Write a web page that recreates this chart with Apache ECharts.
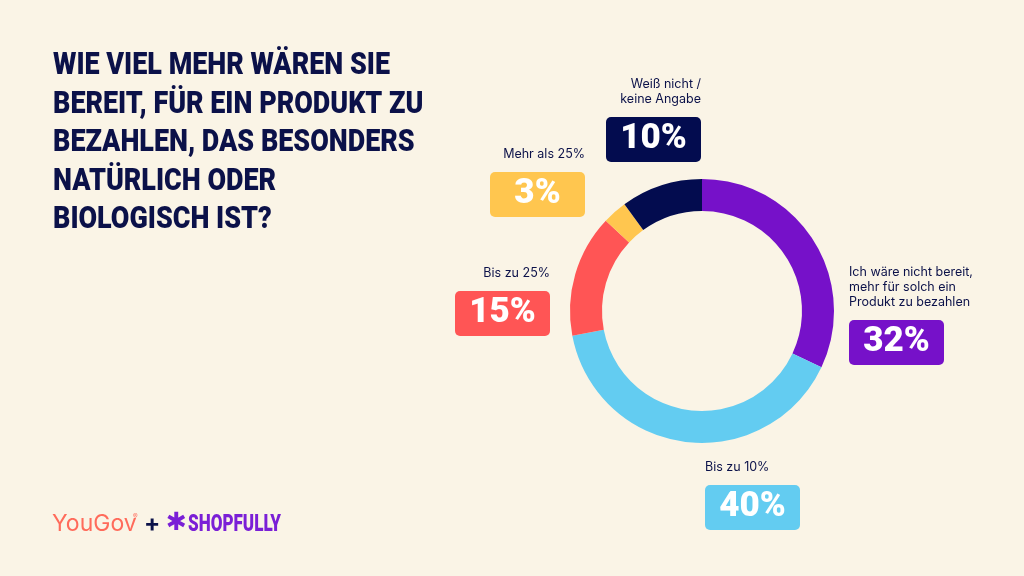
<!DOCTYPE html>
<html>
<head>
<meta charset="utf-8">
<script src="https://cdn.jsdelivr.net/npm/echarts@6/dist/echarts.min.js"></script>
<style>
  html, body { margin: 0; padding: 0; background: #faf4e6; }
  #chart { width: 1024px; height: 576px; }
</style>
</head>
<body>
<div id="chart"></div>
<script>
'use strict';

// Daten
var categories = ['Ich wäre nicht bereit,\nmehr für solch ein\nProdukt zu bezahlen', 'Bis zu 10%', 'Bis zu 25%', 'Mehr als 25%', 'Weiß nicht /\nkeine Angabe'];
var values = [32, 40, 15, 3, 10];
var colors = ['#7611c9', '#63ccf1', '#ff5555', '#ffc64f', '#030c4f'];

// Label-Positionen (Anker oben, links oder rechts)
var labelPos = [
    { x: 849, y: 265, align: 'left' },
    { x: 705, y: 460, align: 'left' },
    { x: 550, y: 266, align: 'right' },
    { x: 585, y: 147, align: 'right' },
    { x: 701, y: 77, align: 'right' }
];

var navy = '#0b1149';
var titleLines = ['WIE VIEL MEHR WÄREN SIE', 'BEREIT, FÜR EIN PRODUKT ZU', 'BEZAHLEN, DAS BESONDERS', 'NATÜRLICH ODER', 'BIOLOGISCH IST?'];
var heavy = 'Roboto, "DejaVu Sans", sans-serif';

// Breite messen, um die schmale Schrift nachzubilden
function textWidth(text, font) {
    var ctx = document.createElement('canvas').getContext('2d');
    ctx.font = font;
    return ctx.measureText(text).width;
}
var titleScale = 337 / textWidth(titleLines[0], '900 31px ' + heavy);
var shopScale = 93 / textWidth('SHOPFULLY', '900 24px ' + heavy);

var chart = echarts.init(document.getElementById('chart'));

var data = [];
for (var i = 0; i < values.length; i ++) {
    var lines = categories[i].split('\n');
    var fmt = '';
    for (var j = 0; j < lines.length; j ++) {
        fmt += '{n|' + lines[j] + '}\n';
    }
    var pct = values[i] + '%';
    // Kasten immer 95px breit, Zahl mittig
    var pad = (95 - textWidth(pct, '900 35px ' + heavy)) / 2;
    fmt += '{s| }\n{b|' + pct + '}';
    data.push({
        name: categories[i],
        value: values[i],
        itemStyle: { color: colors[i] },
        label: {
            formatter: fmt,
            rich: {
                n: {
                    fontFamily: 'Inter, "Noto Sans", sans-serif',
                    fontSize: 12.5,
                    lineHeight: 15,
                    color: navy,
                    align: labelPos[i].align
                },
                s: { fontSize: 4, lineHeight: 10, height: 10 },
                b: {
                    fontFamily: heavy,
                    fontWeight: 900,
                    fontSize: 35,
                    color: '#fff',
                    height: 45,
                    lineHeight: 45,
                    padding: [0, pad],
                    align: labelPos[i].align,
                    backgroundColor: colors[i],
                    borderRadius: 5
                }
            }
        }
    });
}

var option = {
    backgroundColor: '#faf4e6',
    series: [{
        type: 'pie',
        silent: true,
        center: [702, 311],
        radius: [100, 132],
        startAngle: 90,
        clockwise: true,
        avoidLabelOverlap: false,
        label: { show: true, position: 'outside' },
        labelLine: { show: false },
        labelLayout: function (params) {
            var p = labelPos[params.dataIndex];
            return { x: p.x, y: p.y, align: p.align, verticalAlign: 'top' };
        },
        data: data
    }],
    graphic: [
        {
            type: 'text', x: 53, y: 47, scaleX: titleScale,
            style: {
                text: titleLines.join('\n'),
                fontFamily: heavy, fontWeight: 900, fontSize: 31, lineHeight: 38.5,
                fill: navy
            }
        },
        {
            type: 'text', x: 52, y: 513,
            style: { text: 'YouGov', fontFamily: 'Inter, sans-serif', fontSize: 23, fill: '#ff6b5b' }
        },
        {
            type: 'text', x: 133, y: 513,
            style: { text: '®', fontFamily: 'Inter, sans-serif', fontSize: 7, fill: '#ff6b5b' }
        },
        {
            type: 'text', x: 144, y: 512,
            style: { text: '+', fontFamily: 'Inter, sans-serif', fontWeight: 'bold', fontSize: 24, fill: navy }
        },
        {
            type: 'text', x: 166, y: 511,
            style: { text: '✱', fontFamily: '"DejaVu Sans", sans-serif', fontWeight: 'bold', fontSize: 25, fill: '#7a1fd6' }
        },
        {
            type: 'text', x: 188, y: 513, scaleX: shopScale,
            style: { text: 'SHOPFULLY', fontFamily: heavy, fontWeight: 900, fontSize: 24, fill: '#7a1fd6' }
        }
    ]
};

chart.setOption(option);
</script>
</body>
</html>
